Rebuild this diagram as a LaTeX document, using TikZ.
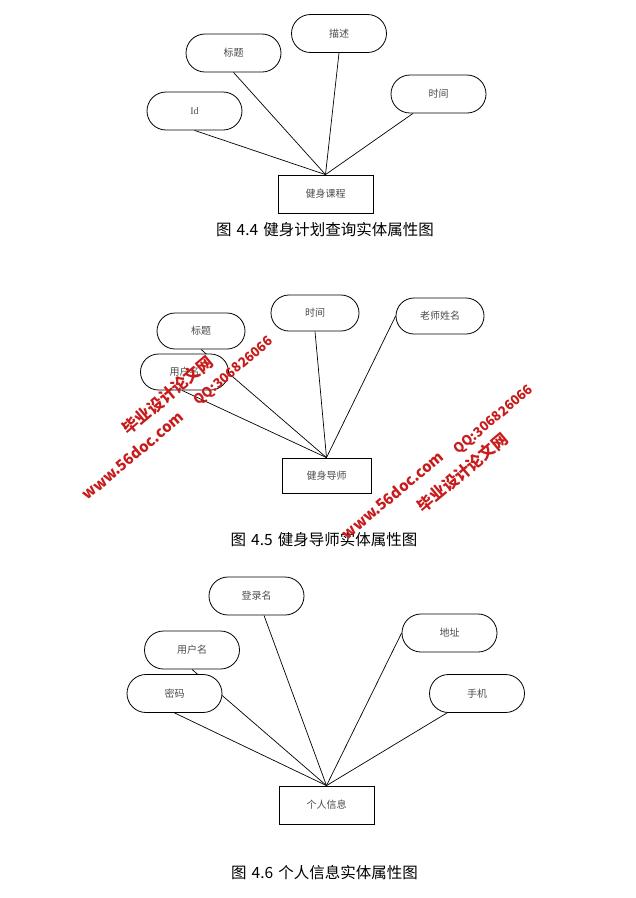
\documentclass[tikz,border=0pt]{standalone}
\usepackage{fontspec}
\setmainfont{Noto Sans CJK SC}
\newfontfamily\latinserif{Liberation Serif}
\usetikzlibrary{backgrounds}
\definecolor{wmred}{RGB}{200,28,28}
\begin{document}
\begin{tikzpicture}[x=1pt,y=-1pt,
  attr/.style={draw, line width=0.8pt, fill=white, rounded corners=19pt,
    minimum width=95pt, minimum height=38pt, inner sep=0pt,
    font=\fontsize{10}{12}\selectfont, text=black!70},
  attrs/.style={attr, rounded corners=18pt, minimum width=88pt, minimum height=36pt},
  ent/.style={draw, line width=0.8pt, fill=white, minimum width=95pt,
    minimum height=38pt, inner sep=0pt, font=\fontsize{10}{12}\selectfont, text=black!70},
  link/.style={line width=0.7pt},
  captext/.style={inner sep=0pt, font=\fontsize{15.5}{17}\selectfont},
  wm/.style={text=wmred, inner sep=0pt, rotate=40, font=\fontsize{16}{16}\selectfont\bfseries},
  wmw/.style={wm, font=\fontsize{15}{15}\selectfont\bfseries},
  wmq/.style={wm, font=\fontsize{13.3}{14}\selectfont\bfseries}
]
\useasboundingbox (0,0) rectangle (636,898);
\begin{scope}[on background layer]
\fill[white] (0,0) rectangle (636,898);
\end{scope}

% ---------- Diagram 4.4 ----------
\node[attr] (d1bt) at (233.5,53) {标题};
\node[attr] (d1ms) at (339,33.5) {描述};
\node[attr] (d1id) at (194.5,111) {\latinserif Id};
\node[attr] (d1sj) at (438.5,94) {时间};
\node[ent] (d1e) at (325.5,194) {健身课程};
\begin{scope}[on background layer]
\draw[link] (d1e.north) -- (d1id.south);
\draw[link] (d1e.north) -- (d1bt.south);
\draw[link] (d1e.north) -- (d1ms.south);
\draw[link] (d1e.north) -- ([xshift=-25.5pt]d1sj.south);
\end{scope}
\node[captext] (c1) at (325,230) {图\hspace{5pt}4.4\hspace{5pt}健身计划查询实体属性图};

% ---------- Diagram 4.5 ----------
\node[attrs] (d2bt) at (201,331) {标题};
\node[attrs] (d2sj) at (315,313) {时间};
\node[attrs] (d2ls) at (440,316) {老师姓名};
\node[attrs] (d2yh) at (184.5,372) {用户名};
\node[ent, minimum width=89pt, minimum height=35pt] (d2e) at (326.5,475.5) {健身导师};
\begin{scope}[on background layer]
\draw[link] (d2e.north) -- (d2bt.south);
\draw[link] (d2e.north) -- ([xshift=-2.5pt]d2yh.south);
\draw[link] (d2e.north) -- (d2sj.south);
\draw[link] (d2e.north) -- (d2ls.west);
\end{scope}
\node[captext] (c2) at (324,540) {图\hspace{5pt}4.5\hspace{5pt}健身导师实体属性图};

% ---------- Diagram 4.6 ----------
\node[attr] (d3dl) at (256.5,596) {登录名};
\node[attr] (d3yh) at (192,650) {用户名};
\node[attr] (d3mm) at (174.5,693.5) {密码};
\node[attr] (d3dz) at (449.5,633) {地址};
\node[attr] (d3sj) at (477,693.5) {手机};
\node[ent] (d3e) at (326.5,805) {个人信息};
\begin{scope}[on background layer]
\draw[link] (d3e.north) -- (d3yh.south);
\draw[link] (d3e.north) -- (d3mm.south);
\draw[link] (d3e.north) -- ([xshift=7.5pt]d3dl.south);
\draw[link] (d3e.north) -- (d3dz.west);
\draw[link] (d3e.north) -- ([xshift=-30pt]d3sj.south);
\end{scope}
\node[captext] (c3) at (324.5,873) {图\hspace{5pt}4.6\hspace{5pt}个人信息实体属性图};

% ---------- Watermarks ----------
\node[wm] (w1a) at (167.5,395) {毕业设计论文网};
\node[wmw] (w1b) at (132.5,455.5) {www.56doc.com};
\node[wmq] (w1c) at (234,371.5) {QQ:306826066};
\node[wmw] (w2b) at (392.5,495) {www.56doc.com};
\node[wmq] (w2c) at (494,420) {QQ:306826066};
\node[wm] (w2a) at (462.5,472.5) {毕业设计论文网};
\end{tikzpicture}
\end{document}
